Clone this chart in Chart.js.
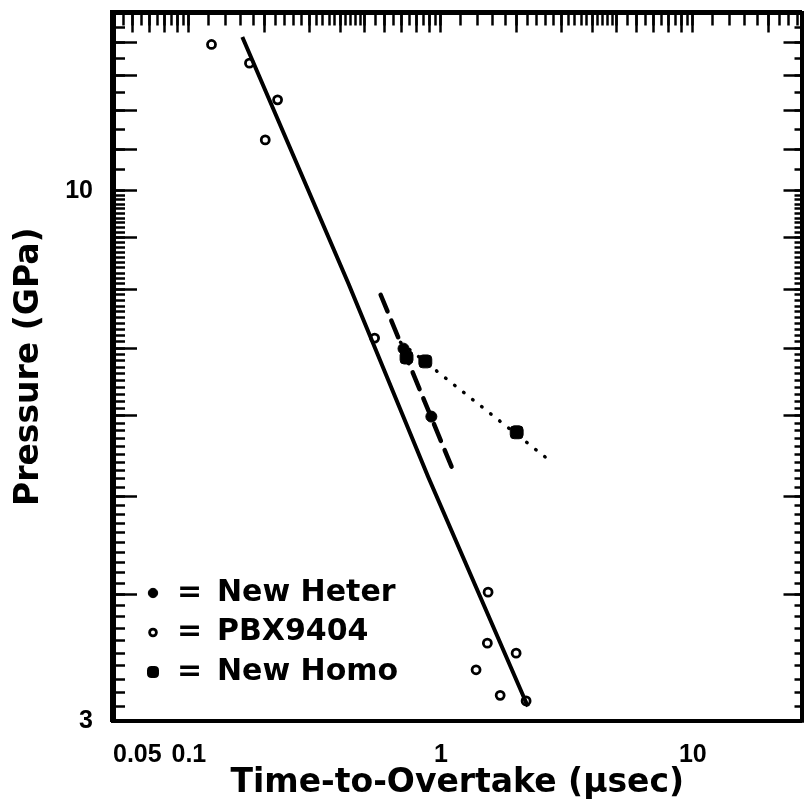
<!DOCTYPE html>
<html>
<head>
<meta charset="utf-8">
<title>Pressure vs Time-to-Overtake</title>
<script src="https://cdn.jsdelivr.net/npm/chart.js@4.4.1/dist/chart.umd.min.js"></script>
<style>
    html, body { margin: 0; padding: 0; background: #fff; }
    #wrap { width: 810px; height: 810px; }
</style>
</head>
<body>
<div id="wrap"><canvas id="chart"></canvas></div>
<script>
// Data (time in usec, pressure in GPa)
var heterTime     = [0.711, 0.917];
var heterPressure = [6.99, 5.99];

var pbxTime     = [0.123, 0.174, 0.225, 0.201, 0.546, 1.54, 1.53, 1.99, 1.38, 1.72, 2.18];
var pbxPressure = [13.95, 13.37, 12.30, 11.23, 7.16, 4.02, 3.58, 3.50, 3.37, 3.18, 3.14];

var homoTime     = [0.731, 0.868, 2.00];
var homoPressure = [6.85, 6.79, 5.78];

// hand drawn fit lines
var pbxFitTime       = [0.163, 0.431, 0.892, 2.215];
var pbxFitPressure   = [14.19, 8.09, 5.22, 3.10];
var heterFitTime     = [0.577, 1.140];
var heterFitPressure = [7.90, 5.24];
var homoFitTime      = [0.692, 2.704];
var homoFitPressure  = [7.09, 5.42];

// axes
var X_MIN = 0.05, X_MAX = 27;
var Y_MIN = 3, Y_MAX = 15;
var xTickValues = [0.05, 0.1, 1, 10];
var xTickLabels = ['0.05', '0.1', '1', '10'];
var yTickValues = [3, 10];
var yTickLabels = ['3', '10'];

Chart.defaults.color = '#000';
Chart.defaults.font.family = '"DejaVu Sans", sans-serif';

function toPoints(xs, ys) {
    return xs.map(function (x, i) { return { x: x, y: ys[i] }; });
}

function round3(v) { return Math.round(v * 1000) / 1000; }

// tick positions for the little inward tick marks
function logTicks(min, max, steps) {
    var out = [];
    for (var p = -2; p <= 2; p++) {
        var base = Math.pow(10, p);
        steps.forEach(function (m) {
            var v = round3(m * base);
            if (v >= min && v <= max && out.indexOf(v) < 0) out.push(v);
        });
    }
    return out;
}

function range(from, to, step) {
    var out = [];
    for (var v = from; v <= to + 1e-9; v += step) out.push(round3(v));
    return out;
}

var topMajor = logTicks(X_MIN, X_MAX, [1, 2, 3, 4, 5, 6, 7, 8, 9]);
var topMinorSteps = range(1, 5, 0.2).concat(range(5.5, 9.5, 0.5));
var topMinor = logTicks(X_MIN, X_MAX, topMinorSteps);
var sideMajor = range(3, 15, 1);
var sideMinor = range(3, 10, 0.1).concat(range(10.5, 14.5, 0.5));

// labels are placed by hand, so drop the extra room chart.js keeps for them
function noPadding(scale) {
    scale.paddingTop = 0;
    scale.paddingBottom = 0;
    scale.paddingLeft = 0;
    scale.paddingRight = 0;
}

function tickAxis(position, min, max, values, length, border) {
    return {
        type: 'logarithmic',
        position: position,
        min: min,
        max: max,
        weight: 0,
        afterBuildTicks: function (scale) {
            scale.ticks = values.map(function (v) { return { value: v }; });
        },
        afterFit: function (scale) {
            if (scale.isHorizontal()) scale.height = 0; else scale.width = 0;
            noPadding(scale);
        },
        ticks: { display: false },
        grid: { drawOnChartArea: false, drawTicks: true, tickLength: -length, tickColor: '#000', tickWidth: 2.5 },
        border: border ? { display: true, color: '#000', width: border } : { display: false }
    };
}

// legend sits inside the plot, bottom left
var insetLegend = {
    id: 'insetLegend',
    afterDatasetsDraw: function (chart) {
        var ctx = chart.ctx;
        var area = chart.chartArea;
        var marks = chart.data.datasets.filter(function (d) { return !d.showLine; });
        ctx.save();
        marks.forEach(function (d, i) {
            var y = area.bottom - 49 - (marks.length - 1 - i) * 39.5;
            ctx.fillStyle = d.backgroundColor;
            ctx.strokeStyle = d.borderColor;
            ctx.lineWidth = d.borderWidth;
            Chart.helpers.drawPoint(ctx, {
                pointStyle: d.pointStyle, rotation: 0,
                radius: d.pointRadius * 0.85, borderWidth: d.borderWidth
            }, area.left + 40, y);
            ctx.fillStyle = '#000';
            ctx.font = 'bold 30px "DejaVu Sans"';
            ctx.textBaseline = 'middle';
            ctx.textAlign = 'left';
            ctx.fillText('=', area.left + 64, y);
            ctx.fillText(d.label, area.left + 104, y);
        });
        ctx.restore();
    }
};

new Chart(document.getElementById('chart'), {
    type: 'scatter',
    data: {
        datasets: [
            {
                label: 'New Heter', data: toPoints(heterTime, heterPressure),
                pointStyle: 'circle', pointRadius: 5.5, backgroundColor: '#000', borderColor: '#000', borderWidth: 1
            },
            {
                label: 'PBX9404', data: toPoints(pbxTime, pbxPressure),
                pointStyle: 'circle', pointRadius: 4, backgroundColor: 'transparent', borderColor: '#000', borderWidth: 2.8
            },
            {
                label: 'New Homo', data: toPoints(homoTime, homoPressure),
                pointStyle: 'rectRounded', pointRadius: 7.5, backgroundColor: '#000', borderColor: '#000', borderWidth: 1
            },
            {
                label: 'PBX9404 fit', data: toPoints(pbxFitTime, pbxFitPressure), showLine: true,
                pointRadius: 0, borderColor: '#000', borderWidth: 4
            },
            {
                label: 'New Heter fit', data: toPoints(heterFitTime, heterFitPressure), showLine: true,
                pointRadius: 0, borderColor: '#000', borderWidth: 4.5, borderDash: [18, 10], borderCapStyle: 'round'
            },
            {
                label: 'New Homo fit', data: toPoints(homoFitTime, homoFitPressure), showLine: true,
                pointRadius: 0, borderColor: '#000', borderWidth: 3.5, borderDash: [0.5, 11], borderCapStyle: 'round'
            }
        ]
    },
    options: {
        animation: false,
        responsive: true,
        maintainAspectRatio: false,
        layout: { padding: { top: 12.5, right: 4, bottom: 0, left: 0 } },
        plugins: { legend: { display: false }, tooltip: { enabled: false } },
        scales: {
            x: {
                type: 'logarithmic',
                position: 'bottom',
                min: X_MIN,
                max: X_MAX,
                weight: 1,
                afterBuildTicks: function (scale) {
                    // empty tick at the right end so 'inner' keeps "10" centred
                    scale.ticks = xTickValues.concat([X_MAX]).map(function (v) { return { value: v }; });
                },
                afterFit: function (scale) { scale.height = 89; noPadding(scale); },
                ticks: {
                    autoSkip: false, maxRotation: 0, align: 'inner', padding: 19.5,
                    font: { family: '"Liberation Sans"', size: 25, weight: 'bold' },
                    callback: function (value, index) { return xTickLabels[index] || ''; }
                },
                grid: { display: false, drawTicks: false },
                border: { display: true, color: '#000', width: 4 },
                title: {
                    display: true, text: 'Time-to-Overtake (\u03bcsec)',
                    font: { size: 33, weight: 'bold' }, padding: { top: 0, bottom: 7 }
                }
            },
            y: {
                type: 'logarithmic',
                position: 'left',
                min: Y_MIN,
                max: Y_MAX,
                weight: 1,
                afterBuildTicks: function (scale) {
                    scale.ticks = yTickValues.map(function (v) { return { value: v }; });
                },
                afterFit: function (scale) { scale.width = 113; noPadding(scale); },
                ticks: {
                    autoSkip: false, padding: 20,
                    font: { family: '"Liberation Sans"', size: 25, weight: 'bold' },
                    callback: function (value, index) { return yTickLabels[index] || ''; }
                },
                grid: { display: false, drawTicks: false },
                border: { display: true, color: '#000', width: 6 },
                title: {
                    display: true, text: 'Pressure (GPa)',
                    font: { size: 33, weight: 'bold' }, padding: { top: 10, bottom: 0 }
                }
            },
            xTop: tickAxis('top', X_MIN, X_MAX, topMajor, 20, 5),
            xTopMinor: tickAxis('top', X_MIN, X_MAX, topMinor, 13),
            yMajor: tickAxis('left', Y_MIN, Y_MAX, sideMajor, 24),
            yMinor: tickAxis('left', Y_MIN, Y_MAX, sideMinor, 12),
            yRightMajor: tickAxis('right', Y_MIN, Y_MAX, sideMajor, 18, 4),
            yRightMinor: tickAxis('right', Y_MIN, Y_MAX, sideMinor, 7)
        }
    },
    plugins: [insetLegend]
});
</script>
</body>
</html>
